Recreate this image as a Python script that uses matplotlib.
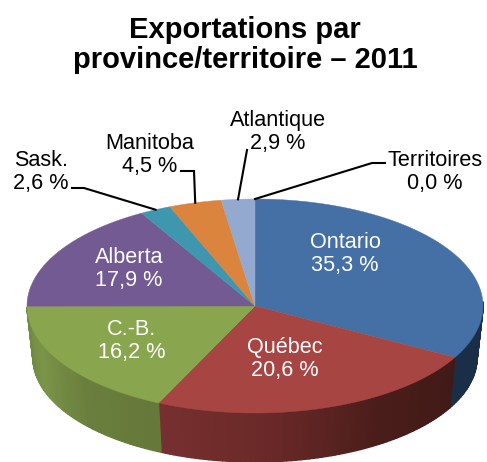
import numpy as np
import matplotlib
matplotlib.use("Agg")
import matplotlib.pyplot as plt
from matplotlib.colors import LinearSegmentedColormap

plt.rcParams['font.family'] = ['Liberation Sans', 'DejaVu Sans']

# Data, clockwise from 12 o'clock
names = ['Ontario', 'Québec', 'C.-B.', 'Alberta', 'Sask.', 'Manitoba', 'Atlantique', 'Territoires']
shares = [35.3, 20.6, 16.2, 17.9, 2.6, 4.5, 2.9, 0.0]

top_colors = ['#4470a6', '#a74543', '#89a54e', '#745a92', '#3e97ae', '#db843d', '#93a9cf', '#4470a6']
side_colors = [
    ['#1a2e48', '#1a2e48'],
    ['#411a17', '#4a1d1a', '#6a2928', '#76302f'],
    ['#66783a', '#6a7f3d', '#7a9448', '#71893f'],
    ['#5a4672', '#5a4672'],
    ['#2a6a7a', '#2a6a7a'],
    ['#a5622c', '#a5622c'],
    ['#6e7f9c', '#6e7f9c'],
    ['#1a2e48', '#1a2e48'],
]

# Text inside / outside the pie, and leader elbows
label_pos = {
    'Ontario': (345, 254, 'white'), 'Québec': (285, 359, 'white'), 'C.-B.': (132, 341, 'white'),
    'Alberta': (129, 269, 'white'), 'Sask.': (41, 172, 'black'), 'Manitoba': (150, 155, 'black'),
    'Atlantique': (278, 132, 'black'), 'Territoires': (435, 172, 'black'),
}
leader_start = {
    'Sask.': [(72, 188), (84, 188)], 'Manitoba': [(181, 171), (194, 171)],
    'Atlantique': [(247, 150)], 'Territoires': [(385, 163), (372, 163)],
}

cx, cy, a, b = 255, 306, 228, 107        # top face
bx, by, ba, bb = 255, 358, 222, 104      # bottom rim


def warp(deg):
    # perspective shifts the angles on the ellipse
    return deg - 10.5 * np.sin(np.radians(deg))


def top_xy(deg):
    t = np.radians(warp(deg))
    return cx + a * np.sin(t), cy - b * np.cos(t)


def low_xy(deg):
    t = np.radians(warp(deg))
    return bx + ba * np.sin(t), by - bb * np.cos(t)


fig = plt.figure(figsize=(4.87, 4.62), dpi=100)
ax = fig.add_axes([0, 0, 1, 1])
ax.set_xlim(0, 487)
ax.set_ylim(462, 0)
ax.axis('off')

edges = np.concatenate([[0], np.cumsum(shares)]) * 3.6

# side wall, only the front half shows
for i in range(len(shares)):
    start, end = edges[i], edges[i + 1]
    if end <= start:
        continue
    cmap = LinearSegmentedColormap.from_list('side', side_colors[i])
    steps = np.arange(start, end, 1.0).tolist() + [end]
    for s0, s1 in zip(steps[:-1], steps[1:]):
        w0, w1 = warp(s0), warp(s1)
        if w1 < 88 or w0 >= 269.5:
            continue
        x0, y0 = top_xy(s0)
        x1, y1 = top_xy(s1)
        x2, y2 = low_xy(s1)
        x3, y3 = low_xy(s0)
        c = cmap((s0 - start) / (end - start))
        ax.fill([x0, x1, x2, x3], [y0, y1, y2, y3], facecolor=c, edgecolor=c, lw=1.0, zorder=2)

# top face
for i in range(len(shares)):
    start, end = edges[i], edges[i + 1]
    if end <= start:
        continue
    th = np.linspace(start, end, 120)
    x, y = top_xy(th)
    ax.fill(np.r_[cx, x], np.r_[cy, y], color=top_colors[i], lw=0.3, zorder=3)

# labels
for i, name in enumerate(names):
    lx, ly, col = label_pos[name]
    txt = name + "\n" + f"{shares[i]:.1f}".replace('.', ',') + " %"
    ax.text(lx, ly, txt, color=col, fontsize=15.6, ha='center', va='center',
            linespacing=1.1, zorder=5)
    if name in leader_start:
        mid = (edges[i] + edges[i + 1]) / 2
        ax_, ay_ = top_xy(mid)
        pts = leader_start[name] + [(ax_, ay_)]
        ax.plot([p[0] for p in pts], [p[1] for p in pts], color='black', lw=1.5,
                solid_joinstyle='miter', zorder=4)

ax.text(245, 45, "Exportations par\nprovince/territoire – 2011", fontsize=21, fontweight='bold',
        ha='center', va='center', linespacing=1.12, color='black')

fig.savefig('out.png', dpi=100)
